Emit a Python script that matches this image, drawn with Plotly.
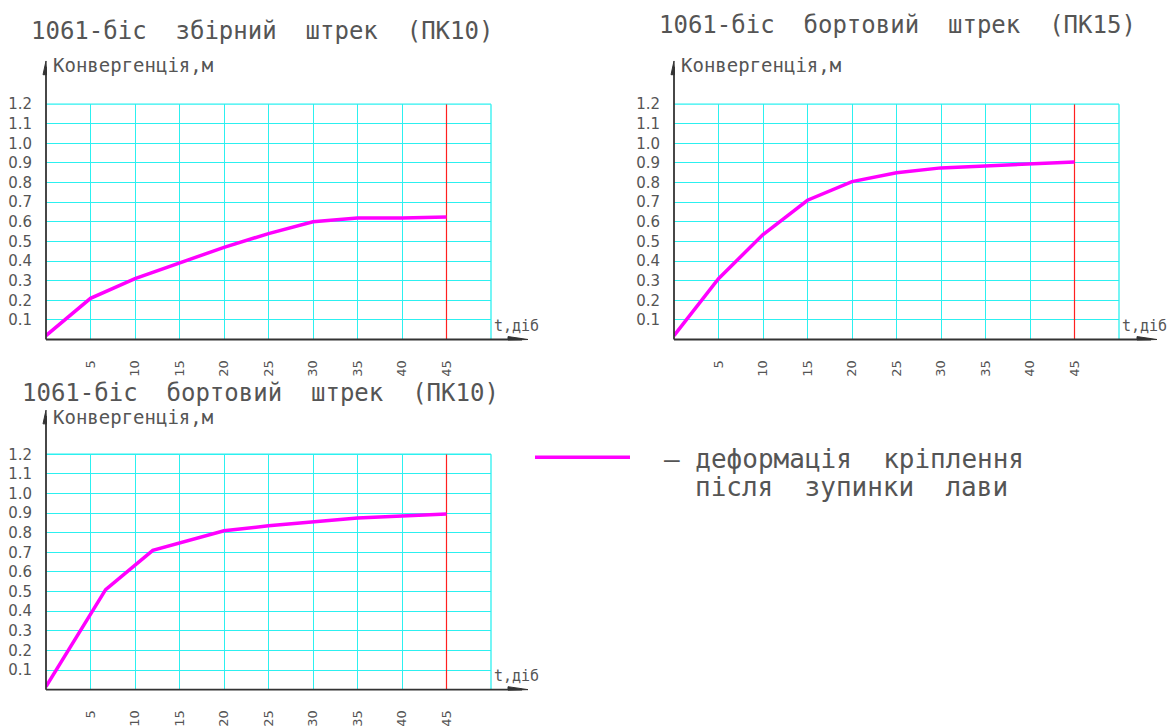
import plotly.graph_objects as go

W, H = 1167, 727

# ---- data ----
days_tl = [0, 5, 10, 15, 20, 25, 30, 35, 40, 45]
conv_tl = [0.02, 0.21, 0.31, 0.39, 0.47, 0.54, 0.60, 0.62, 0.62, 0.625]

days_tr = [0, 5, 10, 15, 20, 25, 30, 35, 40, 45]
conv_tr = [0.02, 0.31, 0.535, 0.71, 0.805, 0.85, 0.875, 0.885, 0.895, 0.905]

days_bl = [0, 6.7, 12, 20, 25, 30, 35, 40, 45]
conv_bl = [0.015, 0.51, 0.71, 0.81, 0.835, 0.855, 0.875, 0.885, 0.895]

stop_day = 45
x_grid = [5, 10, 15, 20, 25, 30, 35, 40, 45, 50]
x_labels = ["5", "10", "15", "20", "25", "30", "35", "40", "45", ""]
y_grid = [0.1, 0.2, 0.3, 0.4, 0.5, 0.6, 0.7, 0.8, 0.9, 1.0, 1.1, 1.2]
y_labels = ["0.1", "0.2", "0.3", "0.4", "0.5", "0.6", "0.7", "0.8", "0.9", "1.0", "1.1", "1.2"]

titles = ["1061-біс  збірний  штрек  (ПК10)",
          "1061-біс  бортовий  штрек  (ПК15)",
          "1061-біс  бортовий  штрек  (ПК10)"]
y_title = "Конвергенція,м"
x_title = "t,діб"
legend_text = ["– деформація  кріплення", "після  зупинки  лави"]

# ---- style ----
FONT = "DejaVu Sans"
MONO = "DejaVu Sans Mono"
TXT = "#555555"
GRID = "#2cf0f0"
MAG = "#ff00ff"
AX = "#333333"

def px(x):
    return x / W

def py(y):
    return 1 - y / H

# panels in pixel positions: grid box and axis arrows
panels = [
    dict(x0=46, x1=491, yb=337, yt=97, axend=528, aytop=53, days=days_tl, conv=conv_tl),
    dict(x0=674, x1=1119, yb=337, yt=97, axend=1157, aytop=53, days=days_tr, conv=conv_tr),
    dict(x0=46, x1=491, yb=694, yt=454, axend=528, aytop=409, days=days_bl, conv=conv_bl),
]
ytitle_y = [57, 57, 416]

fig = go.Figure()
shapes = []
annotations = []

for i, p in enumerate(panels):
    n = "" if i == 0 else str(i + 1)
    xa, ya = "x" + n, "y" + n
    fig.add_trace(go.Scatter(x=[stop_day, stop_day], y=[0, 1.2], mode="lines",
                             line=dict(color="#ff2020", width=1.2),
                             xaxis=xa, yaxis=ya, showlegend=False, hoverinfo="skip"))
    fig.add_trace(go.Scatter(x=p["days"], y=p["conv"], mode="lines",
                             line=dict(color=MAG, width=3.5),
                             xaxis=xa, yaxis=ya, showlegend=False))
    fig.layout["xaxis" + n] = dict(
        domain=[px(p["x0"]), px(p["x1"])], range=[0, 50], anchor=ya,
        tickvals=x_grid, ticktext=x_labels, tickangle=-90,
        showgrid=True, gridcolor=GRID, gridwidth=1.3, zeroline=False,
        showline=False, ticks="", ticklabelstandoff=17,
        tickfont=dict(family=FONT, size=13, color=TXT), fixedrange=True)
    fig.layout["yaxis" + n] = dict(
        domain=[py(p["yb"]), py(p["yt"])], range=[0, 1.2], anchor=xa,
        tickvals=y_grid, ticktext=y_labels,
        showgrid=True, gridcolor=GRID, gridwidth=1.3, zeroline=False,
        showline=False, ticks="", ticklabelstandoff=13,
        tickfont=dict(family=FONT, size=15, color=TXT), fixedrange=True)
    # top & right grid border
    shapes.append(dict(type="line", xref="paper", yref="paper",
                       x0=px(p["x0"]), x1=px(p["x1"]), y0=py(p["yt"]), y1=py(p["yt"]),
                       line=dict(color=GRID, width=1.3), layer="below"))
    shapes.append(dict(type="line", xref="paper", yref="paper",
                       x0=px(p["x1"]), x1=px(p["x1"]), y0=py(p["yb"]), y1=py(p["yt"]),
                       line=dict(color=GRID, width=1.3), layer="below"))
    # axis lines
    shapes.append(dict(type="line", xref="paper", yref="paper",
                       x0=px(p["x0"]), x1=px(p["axend"] - 6), y0=py(p["yb"]), y1=py(p["yb"]),
                       line=dict(color=AX, width=1.8)))
    shapes.append(dict(type="line", xref="paper", yref="paper",
                       x0=px(p["x0"]), x1=px(p["x0"]), y0=py(p["yb"]), y1=py(p["aytop"] + 6),
                       line=dict(color=AX, width=1.8)))
    # arrow heads
    e, b = p["axend"], p["yb"]
    shapes.append(dict(type="path", xref="paper", yref="paper",
                       path=f"M {px(e - 20)},{py(b - 3)} L {px(e)},{py(b)} L {px(e - 20)},{py(b + 0.5)} Z",
                       fillcolor=AX, line=dict(color=AX, width=1)))
    t, l = p["aytop"], p["x0"]
    shapes.append(dict(type="path", xref="paper", yref="paper",
                       path=f"M {px(l)},{py(t)} L {px(l - 3)},{py(t + 14)} L {px(l + 0.5)},{py(t + 14)} Z",
                       fillcolor=AX, line=dict(color=AX, width=1)))
    # y-axis title
    annotations.append(dict(text=y_title, xref="paper", yref="paper",
                            x=px(p["x0"] + 5), y=py(ytitle_y[i]), xanchor="left", yanchor="middle",
                            showarrow=False, font=dict(family=MONO, size=19, color=TXT)))
    # x-axis title
    annotations.append(dict(text=x_title, xref="paper", yref="paper",
                            x=px(p["x1"] + 1), y=py(p["yb"] - 14), xanchor="left", yanchor="middle",
                            showarrow=False, font=dict(family=MONO, size=15, color=TXT)))

# titles
title_pos = [(262, 22), (897, 16), (260, 392)]
for t, (cx, cy) in zip(titles, title_pos):
    annotations.append(dict(text=t, xref="paper", yref="paper", x=px(cx), y=py(cy),
                            xanchor="center", yanchor="middle", showarrow=False,
                            font=dict(family=MONO, size=24, color=TXT)))

# legend
shapes.append(dict(type="line", xref="paper", yref="paper",
                   x0=px(535), x1=px(630), y0=py(457), y1=py(457),
                   line=dict(color=MAG, width=3.5)))
annotations.append(dict(text=legend_text[0], xref="paper", yref="paper", x=px(662), y=py(459),
                        xanchor="left", yanchor="middle", showarrow=False,
                        font=dict(family=MONO, size=26, color=TXT)))
annotations.append(dict(text=legend_text[1], xref="paper", yref="paper", x=px(693), y=py(487),
                        xanchor="left", yanchor="middle", showarrow=False,
                        font=dict(family=MONO, size=26, color=TXT)))

fig.update_layout(width=W, height=H, margin=dict(l=0, r=0, t=0, b=0),
                  paper_bgcolor="white", plot_bgcolor="white",
                  shapes=shapes, annotations=annotations, showlegend=False)

fig.write_html("out.html", config={"displayModeBar": False},
               post_script="document.body.style.margin='0';")
